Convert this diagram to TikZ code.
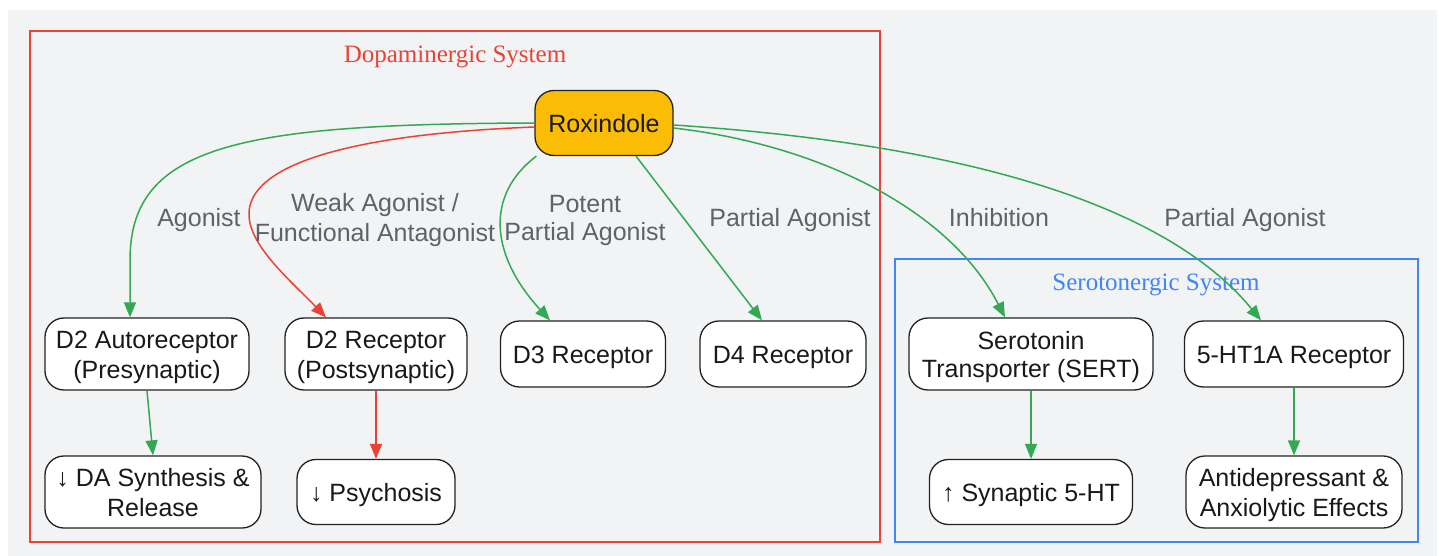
\documentclass[tikz,border=0pt]{standalone}
\usepackage{fontspec}
\setmainfont{Liberation Serif}
\setsansfont{Liberation Sans}
\usetikzlibrary{arrows.meta}
\definecolor{bgc}{HTML}{F1F3F4}
\definecolor{gred}{HTML}{EA4335}
\definecolor{ggreen}{HTML}{34A853}
\definecolor{gblue}{HTML}{4285F4}
\definecolor{ggold}{HTML}{FBBC05}
\definecolor{labc}{HTML}{5F6368}
\definecolor{edgec}{HTML}{222222}
\newcommand{\lstr}{\rule[-4.4pt]{0pt}{28.3pt}}
\tikzset{
  nbox/.style={draw=edgec, line width=1.3pt, fill=white, rounded corners=19pt,
    align=center, inner sep=0pt, font=\sffamily\fontsize{25}{28.3}\selectfont, text=black!90},
  drug/.style={nbox, fill=ggold},
  elab/.style={align=center, inner sep=0pt, text=labc, font=\sffamily\fontsize{25}{28.3}\selectfont},
  gtitle/.style={inner sep=0pt, font=\rmfamily\fontsize{25}{30}\selectfont},
  gedge/.style={draw=ggreen, line width=1.5pt, -{Triangle[length=15pt,width=12pt]}},
  redge/.style={draw=gred, line width=1.5pt, -{Triangle[length=15pt,width=12pt]}},
}
\begin{document}
\begin{tikzpicture}[x=1pt,y=-1pt]
\useasboundingbox (0,0) rectangle (1445,556);
\fill[white] (0,0) rectangle (1445,556);
\fill[bgc] (8,10) rectangle (1437,556);
% groups
\draw[gred, line width=1.5pt] (30,31) rectangle (880,542);
\node[gtitle, text=gred] (dtitle) at (455,57) {Dopaminergic System};
\draw[gblue, line width=1.5pt] (895,259) rectangle (1418,542);
\node[gtitle, text=gblue] (stitle) at (1156,285) {Serotonergic System};
% nodes
\node[drug, minimum width=138pt, minimum height=65pt] (rox) at (604,123) {\lstr Roxindole};
\node[nbox, minimum width=204pt, minimum height=72pt] (d2a) at (147,354) {\lstr D2 Autoreceptor\\\lstr (Presynaptic)};
\node[nbox, minimum width=182pt, minimum height=72pt] (d2r) at (376,354) {\lstr D2 Receptor\\\lstr (Postsynaptic)};
\node[nbox, minimum width=165pt, minimum height=66pt] (d3) at (583,354) {\lstr D3 Receptor};
\node[nbox, minimum width=166pt, minimum height=66pt] (d4) at (783,354) {\lstr D4 Receptor};
\node[nbox, minimum width=244pt, minimum height=72pt] (sert) at (1031,354) {\lstr Serotonin\\\lstr Transporter (SERT)};
\node[nbox, minimum width=219pt, minimum height=66pt] (ht) at (1294,354) {\lstr 5-HT1A Receptor};
\node[nbox, minimum width=216pt, minimum height=72pt] (da) at (153,492) {\lstr ↓ DA Synthesis \&\\\lstr Release};
\node[nbox, minimum width=158pt, minimum height=65pt] (psy) at (376,492) {\lstr ↓ Psychosis};
\node[nbox, minimum width=203pt, minimum height=65pt] (syn) at (1031,492) {\lstr ↑ Synaptic 5-HT};
\node[nbox, minimum width=216pt, minimum height=72pt] (anti) at (1294,492) {\lstr Antidepressant \&\\\lstr Anxiolytic Effects};
% edges
\draw[gedge] (rox.west) .. controls (240,124) and (130,145) .. (130,260) -- ([xshift=-17pt]d2a.north);
\draw[redge] ([yshift=-4pt]rox.west) .. controls (330,135) and (250,170) .. (249,213) .. controls (248,245) and (290,280) .. ([xshift=-50pt]d2r.north);
\draw[gedge] ([xshift=2pt]rox.south west) .. controls (485,195) and (490,255) .. ([xshift=-33pt]d3.north);
\draw[gedge] ([xshift=32pt]rox.south) -- ([xshift=-21pt]d4.north);
\draw[gedge] ([yshift=-5pt]rox.east) .. controls (820,145) and (950,210) .. ([xshift=-26pt]sert.north);
\draw[gedge] ([yshift=-2pt]rox.east) .. controls (900,140) and (1150,185) .. ([xshift=-33pt]ht.north);
\draw[gedge] (d2a.south) -- (da.north);
\draw[redge] (d2r.south) -- (psy.north);
\draw[gedge] (sert.south) -- (syn.north);
\draw[gedge] (ht.south) -- (anti.north);
% edge labels
\node[elab] (l1) at (199,217) {\lstr Agonist};
\node[elab] (l2) at (375,217) {\lstr Weak Agonist /\\\lstr Functional Antagonist};
\node[elab] (l3) at (585,217) {\lstr Potent\\\lstr Partial Agonist};
\node[elab] (l4) at (790,217) {\lstr Partial Agonist};
\node[elab] (l5) at (999,217) {\lstr Inhibition};
\node[elab] (l6) at (1245,217) {\lstr Partial Agonist};
\end{tikzpicture}
\end{document}
